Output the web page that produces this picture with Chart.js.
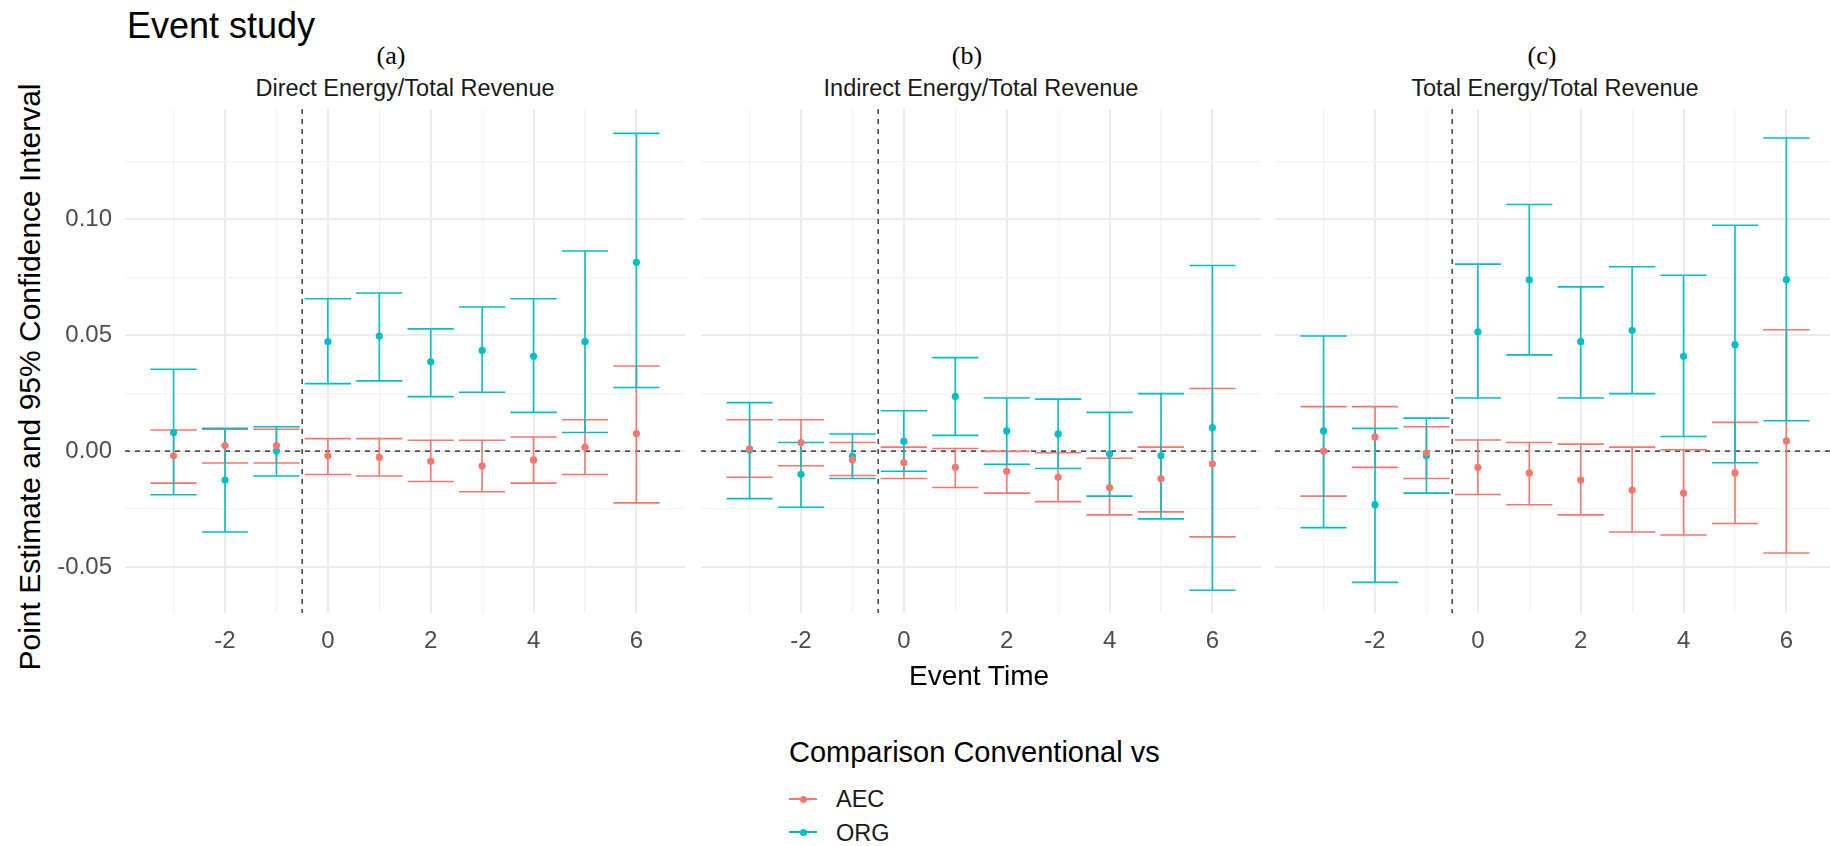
<!DOCTYPE html>
<html>
<head>
<meta charset="utf-8">
<title>Event study</title>
<script src="https://cdn.jsdelivr.net/npm/chart.js@4.4.1/dist/chart.umd.min.js"></script>
<style>
  html, body { margin: 0; padding: 0; background: #fff; overflow: hidden; }
  #page { position: relative; width: 1830px; height: 846px; font-family: 'Liberation Sans', Arial, sans-serif; }
  .txt { position: absolute; white-space: nowrap; }
  .center { transform: translateX(-50%); }
  .tag { font-family: 'Liberation Serif', 'Times New Roman', serif; font-size: 26px; line-height: 26px; color: #000; top: 42.5px; }
  .strip { font-size: 23.5px; line-height: 23.5px; color: #1a1a1a; top: 77px; }
  .key-line { position: absolute; left: 789px; width: 28px; height: 2px; }
  .key-dot { position: absolute; left: 799.5px; width: 7px; height: 7px; border-radius: 50%; }
  canvas { position: absolute; }
</style>
</head>
<body>
<div id="page">
  <div class="txt" style="left:127px; top:8px; font-size:36px; line-height:36px; color:#000;">Event study</div>

  <div class="txt tag center" style="left:391px;">(a)</div>
  <div class="txt tag center" style="left:967px;">(b)</div>
  <div class="txt tag center" style="left:1542px;">(c)</div>

  <div class="txt strip center" style="left:405px;">Direct Energy/Total Revenue</div>
  <div class="txt strip center" style="left:981px;">Indirect Energy/Total Revenue</div>
  <div class="txt strip center" style="left:1555px;">Total Energy/Total Revenue</div>

  <div class="txt" style="left:30px; top:377px; width:620px; height:30px; margin-left:-310px; margin-top:-15px; font-size:30px; line-height:30px; text-align:center; color:#000; transform:rotate(-90deg);">Point Estimate and 95% Confidence Interval</div>

  <canvas id="chart-direct" width="685" height="559" style="left:0px; top:109px;"></canvas>
  <canvas id="chart-indirect" width="560" height="559" style="left:701px; top:109px;"></canvas>
  <canvas id="chart-total" width="560" height="559" style="left:1275px; top:109px;"></canvas>

  <div class="txt center" style="left:979px; top:662px; font-size:28px; line-height:28px; color:#000;">Event Time</div>

  <div class="txt" style="left:789px; top:738px; font-size:29px; line-height:29px; color:#000;">Comparison Conventional vs</div>
  <div class="key-line" style="top:798px; background:#F8766D;"></div>
  <div class="key-dot" style="top:795.5px; background:#F8766D;"></div>
  <div class="txt" style="left:836px; top:788px; font-size:23.5px; line-height:23.5px; color:#1a1a1a;">AEC</div>
  <div class="key-line" style="top:831px; background:#00BFC4;"></div>
  <div class="key-dot" style="top:828.5px; background:#00BFC4;"></div>
  <div class="txt" style="left:836px; top:821.5px; font-size:23.5px; line-height:23.5px; color:#1a1a1a;">ORG</div>
</div>

<script>
// event time on the x axis
const eventTime = [-3, -2, -1, 0, 1, 2, 3, 4, 5, 6];
const xTickValues = [-2, 0, 2, 4, 6];
const yTickValues = [-0.05, 0, 0.05, 0.10];
const yGridValues = [-0.05, -0.025, 0, 0.025, 0.05, 0.075, 0.10, 0.125];

// (a) Direct Energy/Total Revenue
const directAecEst = [-0.0020, 0.0024, 0.0024, -0.0020, -0.0027, -0.0044, -0.0064, -0.0038, 0.0017, 0.0076];
const directAecLo  = [-0.0138, -0.0051, -0.0051, -0.0101, -0.0107, -0.0131, -0.0175, -0.0138, -0.0101, -0.0223];
const directAecHi  = [0.0091, 0.0094, 0.0094, 0.0054, 0.0054, 0.0047, 0.0047, 0.0061, 0.0135, 0.0367];
const directOrgEst = [0.0080, -0.0125, 0.0000, 0.0472, 0.0496, 0.0385, 0.0434, 0.0409, 0.0472, 0.0814];
const directOrgLo  = [-0.0188, -0.0349, -0.0107, 0.0291, 0.0303, 0.0235, 0.0254, 0.0167, 0.0080, 0.0274];
const directOrgHi  = [0.0353, 0.0098, 0.0105, 0.0657, 0.0682, 0.0527, 0.0621, 0.0657, 0.0863, 0.1370];

// (b) Indirect Energy/Total Revenue
const indirectAecEst = [0.0010, 0.0037, -0.0037, -0.0050, -0.0070, -0.0087, -0.0113, -0.0157, -0.0118, -0.0055];
const indirectAecLo  = [-0.0113, -0.0063, -0.0105, -0.0118, -0.0157, -0.0181, -0.0218, -0.0275, -0.0262, -0.0370];
const indirectAecHi  = [0.0135, 0.0135, 0.0037, 0.0017, 0.0011, -0.0001, -0.0007, -0.0031, 0.0017, 0.0270];
const indirectOrgEst = [0.0005, -0.0100, -0.0023, 0.0043, 0.0235, 0.0087, 0.0074, -0.0013, -0.0020, 0.0101];
const indirectOrgLo  = [-0.0205, -0.0242, -0.0118, -0.0087, 0.0068, -0.0057, -0.0075, -0.0194, -0.0292, -0.0600];
const indirectOrgHi  = [0.0209, 0.0037, 0.0074, 0.0174, 0.0403, 0.0229, 0.0224, 0.0167, 0.0248, 0.0800];

// (c) Total Energy/Total Revenue
const totalAecEst = [0.0000, 0.0061, -0.0007, -0.0070, -0.0094, -0.0125, -0.0168, -0.0181, -0.0094, 0.0044];
const totalAecLo  = [-0.0194, -0.0070, -0.0118, -0.0187, -0.0231, -0.0275, -0.0349, -0.0362, -0.0312, -0.0439];
const totalAecHi  = [0.0192, 0.0192, 0.0105, 0.0048, 0.0037, 0.0030, 0.0017, 0.0006, 0.0124, 0.0523];
const totalOrgEst = [0.0087, -0.0231, -0.0020, 0.0514, 0.0738, 0.0472, 0.0521, 0.0409, 0.0459, 0.0739];
const totalOrgLo  = [-0.0330, -0.0566, -0.0181, 0.0229, 0.0415, 0.0229, 0.0248, 0.0063, -0.0050, 0.0131];
const totalOrgHi  = [0.0496, 0.0098, 0.0142, 0.0806, 0.1063, 0.0708, 0.0795, 0.0758, 0.0974, 0.1350];

const aecColor = '#F8766D';
const orgColor = '#00BFC4';
const treatmentLine = -0.5;
const capHalf = 0.45;

const isMajor = (v, list) => list.some(t => Math.abs(t - v) < 1e-9);

// draws the dashed reference lines and the 95% interval bars
const errorBarPlugin = {
  id: 'errorBars',
  beforeDatasetsDraw(chart) {
    const { ctx, chartArea: area, scales: { x, y } } = chart;
    ctx.save();
    ctx.beginPath();
    ctx.rect(area.left, area.top, area.right - area.left, area.bottom - area.top);
    ctx.clip();

    ctx.strokeStyle = '#222';
    ctx.lineWidth = 1.3;
    ctx.setLineDash([5, 5]);
    const y0 = y.getPixelForValue(0);
    ctx.beginPath();
    ctx.moveTo(area.left, y0);
    ctx.lineTo(area.right, y0);
    ctx.stroke();
    const xv = x.getPixelForValue(treatmentLine);
    ctx.beginPath();
    ctx.moveTo(xv, area.top);
    ctx.lineTo(xv, area.bottom);
    ctx.stroke();
    ctx.setLineDash([]);

    chart.data.datasets.forEach(ds => {
      ctx.strokeStyle = ds.backgroundColor;
      ctx.lineWidth = 1.6;
      ds.data.forEach((pt, i) => {
        const px = x.getPixelForValue(pt.x);
        const pl = x.getPixelForValue(pt.x - capHalf);
        const pr = x.getPixelForValue(pt.x + capHalf);
        const lo = y.getPixelForValue(ds.lower[i]);
        const hi = y.getPixelForValue(ds.upper[i]);
        ctx.beginPath();
        ctx.moveTo(px, lo); ctx.lineTo(px, hi);
        ctx.moveTo(pl, lo); ctx.lineTo(pr, lo);
        ctx.moveTo(pl, hi); ctx.lineTo(pr, hi);
        ctx.stroke();
      });
    });
    ctx.restore();
  }
};

function series(label, color, est, lo, hi) {
  return {
    label: label,
    data: eventTime.map((t, i) => ({ x: t, y: est[i] })),
    lower: lo,
    upper: hi,
    backgroundColor: color,
    borderColor: color,
    pointRadius: 3.6,
    pointBorderWidth: 0,
    showLine: false
  };
}

function makePanel(id, showY, datasets) {
  return new Chart(document.getElementById(id).getContext('2d'), {
    type: 'scatter',
    data: { datasets: datasets },
    plugins: [errorBarPlugin],
    options: {
      responsive: false,
      devicePixelRatio: 1,
      animation: false,
      events: [],
      layout: { padding: 0, autoPadding: false },
      plugins: { legend: { display: false }, tooltip: { enabled: false } },
      scales: {
        x: {
          type: 'linear',
          min: -3.945,
          max: 6.945,
          afterBuildTicks: s => { s.ticks = eventTime.map(v => ({ value: v })); },
          afterFit: s => { s.height = 55; s.paddingLeft = 0; s.paddingRight = 0; },
          border: { display: false },
          grid: {
            drawTicks: false,
            color: c => isMajor(c.tick.value, xTickValues) ? '#EBEBEB' : '#F3F3F3',
            lineWidth: c => isMajor(c.tick.value, xTickValues) ? 2 : 1.2
          },
          ticks: {
            autoSkip: false,
            maxRotation: 0,
            padding: 14,
            color: '#4D4D4D',
            font: { family: "'Liberation Sans', Arial, sans-serif", size: 24 },
            callback: v => isMajor(v, xTickValues) ? String(v) : ''
          }
        },
        y: {
          type: 'linear',
          min: -0.0698,
          max: 0.1475,
          afterBuildTicks: s => { s.ticks = yGridValues.map(v => ({ value: v })); },
          afterFit: s => { s.width = showY ? 125 : 0; s.paddingTop = 0; s.paddingBottom = 0; },
          border: { display: false },
          grid: {
            drawTicks: false,
            color: c => isMajor(c.tick.value, yTickValues) ? '#EBEBEB' : '#F3F3F3',
            lineWidth: c => isMajor(c.tick.value, yTickValues) ? 2 : 1.2
          },
          ticks: {
            display: showY,
            autoSkip: false,
            padding: 13,
            color: '#4D4D4D',
            font: { family: "'Liberation Sans', Arial, sans-serif", size: 24 },
            callback: v => {
              const t = yTickValues.find(m => Math.abs(m - v) < 1e-9);
              return t === undefined ? '' : t.toFixed(2);
            }
          }
        }
      }
    }
  });
}

var chartDirect = makePanel('chart-direct', true, [
  series('AEC', aecColor, directAecEst, directAecLo, directAecHi),
  series('ORG', orgColor, directOrgEst, directOrgLo, directOrgHi)
]); /* <-- End 'chartDirect' */

var chartIndirect = makePanel('chart-indirect', false, [
  series('AEC', aecColor, indirectAecEst, indirectAecLo, indirectAecHi),
  series('ORG', orgColor, indirectOrgEst, indirectOrgLo, indirectOrgHi)
]); /* <-- End 'chartIndirect' */

var chartTotal = makePanel('chart-total', false, [
  series('AEC', aecColor, totalAecEst, totalAecLo, totalAecHi),
  series('ORG', orgColor, totalOrgEst, totalOrgLo, totalOrgHi)
]); /* <-- End 'chartTotal' */
</script>
</body>
</html>
